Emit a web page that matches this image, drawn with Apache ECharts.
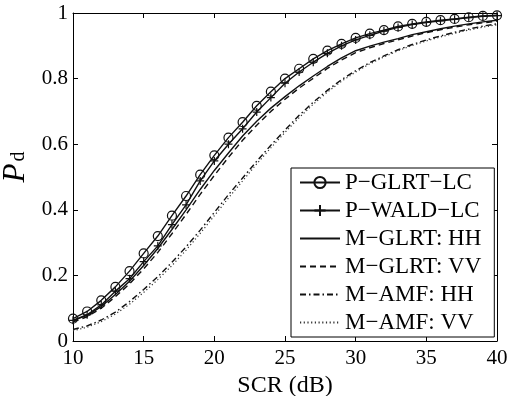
<!DOCTYPE html>
<html>
<head>
<meta charset="utf-8">
<script src="https://cdn.jsdelivr.net/npm/echarts@6/dist/echarts.min.js"></script>
<style>html,body{margin:0;padding:0;background:#fff}#c{width:511px;height:396px}</style>
</head>
<body>
<div id="c"></div>
<script>
var scr = [10,11,12,13,14,15,16,17,18,19,20,21,22,23,24,25,26,27,28,29,30,31,32,33,34,35,36,37,38,39,40];
var pGlrtLc = [0.068,0.090,0.124,0.165,0.213,0.267,0.320,0.382,0.442,0.507,0.566,0.620,0.667,0.717,0.760,0.800,0.830,0.860,0.885,0.906,0.924,0.937,0.948,0.959,0.967,0.973,0.978,0.982,0.987,0.991,0.993];
var pWaldLc = [0.063,0.080,0.110,0.152,0.190,0.242,0.290,0.355,0.415,0.488,0.549,0.600,0.647,0.698,0.742,0.786,0.820,0.850,0.877,0.900,0.918,0.932,0.945,0.956,0.965,0.971,0.976,0.981,0.986,0.990,0.992];
var mGlrtHH = [0.063,0.078,0.105,0.142,0.182,0.230,0.282,0.340,0.400,0.462,0.520,0.573,0.625,0.670,0.710,0.745,0.778,0.808,0.837,0.863,0.885,0.899,0.911,0.922,0.934,0.943,0.952,0.960,0.967,0.973,0.978];
var mGlrtVV = [0.058,0.074,0.100,0.135,0.174,0.220,0.270,0.327,0.386,0.447,0.505,0.560,0.612,0.658,0.700,0.737,0.771,0.801,0.831,0.857,0.879,0.894,0.907,0.918,0.930,0.940,0.949,0.957,0.964,0.970,0.975];
var mAmfHH = [0.035,0.046,0.064,0.088,0.120,0.157,0.196,0.240,0.287,0.338,0.392,0.446,0.497,0.548,0.597,0.643,0.688,0.728,0.764,0.797,0.824,0.849,0.869,0.888,0.904,0.918,0.930,0.941,0.951,0.960,0.967];
var mAmfVV = [0.031,0.042,0.059,0.082,0.112,0.148,0.187,0.230,0.277,0.328,0.382,0.436,0.488,0.540,0.589,0.636,0.681,0.722,0.759,0.792,0.820,0.845,0.866,0.885,0.901,0.915,0.927,0.938,0.948,0.957,0.964];
var names = ['P\u2212GLRT\u2212LC','P\u2212WALD\u2212LC','M\u2212GLRT: HH','M\u2212GLRT: VV','M\u2212AMF: HH','M\u2212AMF: VV'];
var xTicks = [10,15,20,25,30,35,40];
var yTicks = [0,0.2,0.4,0.6,0.8,1];

function pairs(v){ return scr.map(function(x,i){ return [x, v[i]]; }); }
var FONT = "'Liberation Serif', 'Times New Roman', serif";
var plus = 'path://M0,5L10,5M5,0L5,10';

var chart = echarts.init(document.getElementById('c'), null, {renderer:'canvas'});
var lineBase = {color:'#111', width:1.4};
function axisCommon(pos, showLabel){
  return {
    type:'value', position:pos,
    axisLine:{show:true, onZero:false, lineStyle:{color:'#000', width:1}},
    axisTick:{show:true, inside:true, length:5, lineStyle:{color:'#000'}},
    splitLine:{show:false},
    axisLabel:{show:showLabel, fontFamily:FONT, fontSize:21, color:'#000', margin:5}
  };
}
var xa1 = axisCommon('bottom', true);
xa1.min = xTicks[0]; xa1.max = xTicks[xTicks.length-1]; xa1.interval = 5;
xa1.axisLabel.margin = 7;
xa1.name = 'SCR (dB)'; xa1.nameLocation = 'middle'; xa1.nameGap = 18;
xa1.nameTextStyle = {fontFamily:FONT, fontSize:24, color:'#000'};
var xa2 = axisCommon('top', false);
xa2.min = xTicks[0]; xa2.max = xTicks[xTicks.length-1]; xa2.interval = 5;
var ya1 = axisCommon('left', true);
ya1.min = yTicks[0]; ya1.max = yTicks[yTicks.length-1]; ya1.interval = 0.2;
ya1.name = '{p|P}{d|d}'; ya1.nameLocation = 'middle'; ya1.nameGap = 33; ya1.nameRotate = 90;
ya1.nameTextStyle = {rich:{
  p:{fontFamily:FONT, fontStyle:'italic', fontSize:31, color:'#000'},
  d:{fontFamily:FONT, fontSize:20, color:'#000', padding:[6,0,0,2]}
}, padding:[0,0,0,20]};
var ya2 = axisCommon('right', false);
ya2.min = 0; ya2.max = 1; ya2.interval = 0.2;

var noSym = {color:'rgba(0,0,0,0)', borderColor:'rgba(0,0,0,0)', borderWidth:0};
var series = [
  {name:names[0], type:'line', data:pairs(pGlrtLc), symbol:'circle', symbolSize:9, showSymbol:true,
   lineStyle:lineBase, itemStyle:{color:'rgba(0,0,0,0)', borderColor:'#111', borderWidth:1.2}},
  {name:names[1], type:'line', data:pairs(pWaldLc), symbol:plus, symbolSize:8, showSymbol:true,
   lineStyle:lineBase, itemStyle:{color:'rgba(0,0,0,0)', borderColor:'#111', borderWidth:1.2}},
  {name:names[2], type:'line', data:pairs(mGlrtHH), symbol:'none',
   lineStyle:{color:'#111', width:1.4, type:'solid'}, itemStyle:noSym},
  {name:names[3], type:'line', data:pairs(mGlrtVV), symbol:'none',
   lineStyle:{color:'#111', width:1.4, type:[6,4]}, itemStyle:noSym},
  {name:names[4], type:'line', data:pairs(mAmfHH), symbol:'none',
   lineStyle:{color:'#111', width:1.4, type:[6,3,1.5,3]}, itemStyle:noSym},
  {name:names[5], type:'line', data:pairs(mAmfVV), symbol:'none',
   lineStyle:{color:'#333', width:1.2, type:[1.2,2.5]}, itemStyle:noSym}
];
series.forEach(function(s){ s.animation = false; s.silent = true; s.xAxisIndex = 0; s.yAxisIndex = 0; });

chart.setOption({
  animation:false,
  backgroundColor:'#fff',
  grid:{left:73, right:14, top:13, bottom:55, containLabel:false, outerBoundsMode:'none'},
  xAxis:[xa1, xa2],
  yAxis:[ya1, ya2],
  legend:{
    data:names, orient:'vertical', left:291, top:168,
    backgroundColor:'#fff', borderColor:'#000', borderWidth:1,
    padding:[3,13,3,8], itemGap:5, itemWidth:40, itemHeight:14,
    selectedMode:false,
    textStyle:{fontFamily:FONT, fontSize:23, color:'#000', lineHeight:23, padding:[0,0,0,0]}
  },
  series:series
});
</script>
</body>
</html>
